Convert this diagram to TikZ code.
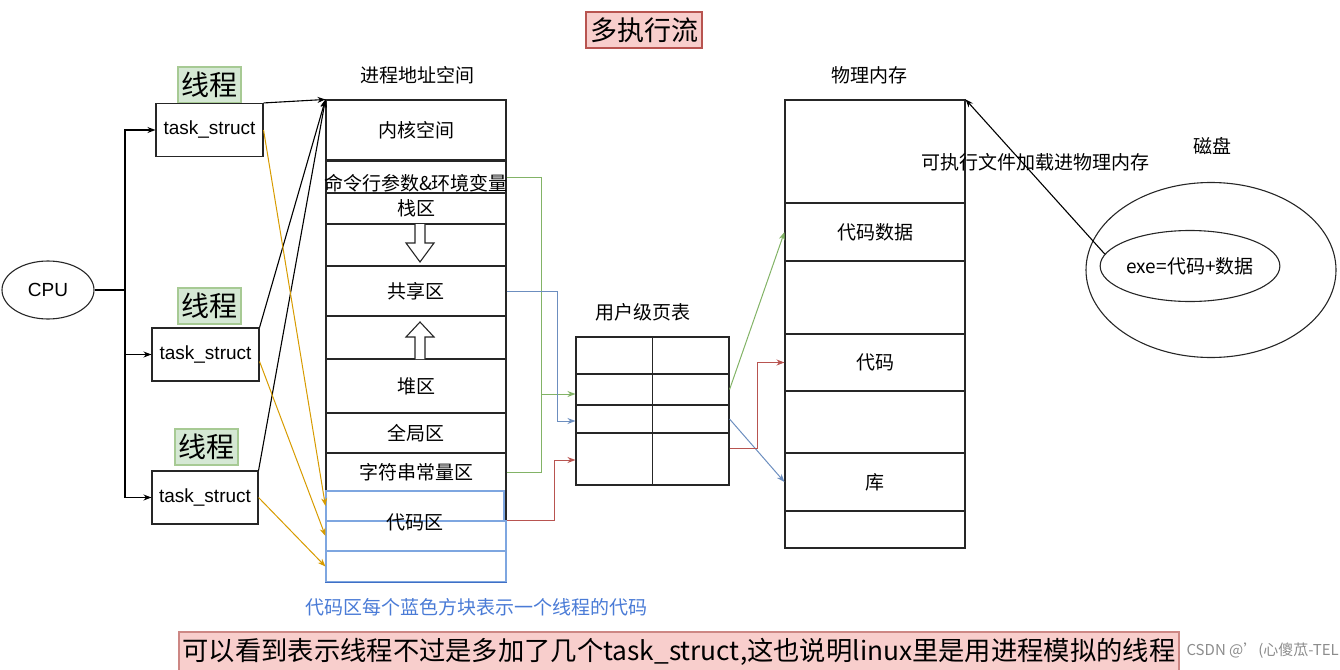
\documentclass[tikz,border=0pt]{standalone}
\usepackage{fontspec}
\setmainfont{Noto Sans CJK SC}
\newfontfamily\lat{Liberation Sans}
\usetikzlibrary{arrows.meta,shapes.geometric}
\definecolor{pinkf}{HTML}{F8CECC}
\definecolor{pinkd}{HTML}{B85450}
\definecolor{greenf}{HTML}{D5E8D4}
\definecolor{greend}{HTML}{82B366}
\definecolor{bluel}{HTML}{6C8EBF}
\definecolor{blueb}{HTML}{7EA6E0}
\definecolor{bluedk}{HTML}{3F6FC6}
\definecolor{oran}{HTML}{D79B00}
\definecolor{redl}{HTML}{B85450}
\definecolor{capblue}{HTML}{4A7BD6}
\begin{document}
\begin{tikzpicture}[x=1pt,y=-1pt,line width=1.1pt,
  >={Stealth[length=8pt,width=6pt]},
  txt/.style={inner sep=0pt,font=\fontsize{19}{22}\selectfont},
  box/.style={draw=black!85,rectangle,inner sep=0pt,minimum width=180pt,font=\fontsize{19}{22}\selectfont},
  cell/.style={draw=black!85,rectangle,inner sep=0pt,minimum width=153pt},
  tsbox/.style={draw=black!85,rectangle,inner sep=0pt,minimum width=107pt,minimum height=53pt,font=\lat\fontsize{19}{22}\selectfont},
  thr/.style={draw=greend!70,fill=greenf,rectangle,inner sep=0pt,minimum width=63pt,minimum height=36pt,font=\fontsize{28}{30}\selectfont},
  bluebox/.style={draw=blueb,rectangle,inner sep=0pt,minimum width=180pt},
  gr/.style={draw=greend,line width=1pt},
  bl/.style={draw=bluel,line width=1pt},
  rd/.style={draw=redl,line width=1pt},
  orl/.style={draw=oran,line width=1pt},
  hollow/.style={draw=black!85,fill=white,line width=1.1pt,line join=miter}]
\useasboundingbox (0,0) rectangle (1340,669);

% title
\node[draw=pinkd,fill=pinkf,rectangle,inner sep=0pt,minimum width=116pt,minimum height=36pt,font=\fontsize{27}{30}\selectfont] (title) at (644,30) {多执行流};

% CPU and threads
\node[draw=black!85,ellipse,inner sep=0pt,minimum width=92pt,minimum height=58pt,font=\lat\fontsize{19}{22}\selectfont] (cpu) at (48,290) {CPU};
\node[thr] (th1) at (209.5,85) {线程};
\node[thr] (th2) at (209.5,306) {线程};
\node[thr] (th3) at (206.5,447) {线程};
\node[tsbox] (ts1) at (209.5,130) {task\_struct};
\node[tsbox] (ts2) at (205.5,354.5) {task\_struct};
\node[tsbox,minimum width=106pt] (ts3) at (205,497.5) {task\_struct};

\coordinate (cj) at (125,290);
\draw (cpu.east) -- (cj);
\draw[->] (cj) |- (ts1.west);
\draw[->] (cj) |- (ts2.west);
\draw[->] (cj) |- (ts3.west);

% process address space
\node[txt] (aslbl) at (417,75) {进程地址空间};
\node[box,minimum height=60pt] (kern) at (416,130) {内核空间};
\node[box,minimum height=31.5pt] (cmd) at (416,177.25) {};
\node[txt] (cmdt) at (416,183) {命令行参数\&环境变量};
\node[box,minimum height=31pt] (stack) at (416,208.5) {栈区};
\node[box,minimum height=42pt] (arrd) at (416,245) {};
\node[box,minimum height=50pt] (share) at (416,291) {共享区};
\node[box,minimum height=43pt] (arru) at (416,337.5) {};
\node[box,minimum height=54pt] (heap) at (416,386) {堆区};
\node[box,minimum height=40pt] (glob) at (416,433) {全局区};
\node[box,minimum height=38pt] (str) at (416,472) {字符串常量区};
\node[box,minimum height=91pt] (codefr) at (416,536.5) {};
\node[bluebox,minimum width=178pt,minimum height=30pt] (blueA) at (415,506) {};
\node[bluebox,minimum height=30pt] (blueB) at (416,536) {};
\node[bluebox,minimum height=31pt] (blueC) at (416,566.5) {};
\draw[bluedk] (blueC.south west) -- (blueC.south east);
\node[txt] (codet) at (415,522) {代码区};
\node[txt,text=capblue] (cap) at (476,607) {代码区每个蓝色方块表示一个线程的代码};

% hollow arrows
\draw[hollow] (415,224) -- (415,243) -- (406,243) -- (420,262) -- (434,243) -- (425,243) -- (425,224);
\draw[hollow] (415,359) -- (415,337) -- (406,337) -- (420,322) -- (434,337) -- (425,337) -- (425,359);

% thread links
\draw[->] (ts1.north east) -- (kern.north west);
\draw[->] (ts2.north east) -- (kern.north west);
\draw[->] (ts3.north east) -- (kern.north west);
\draw[orl,->] (ts1.east) -- (blueA.west);
\draw[orl,->] ([yshift=-7pt]ts2.east) -- (blueB.west);
\draw[orl,->] (ts3.east) -- (blueC.west);

% page table
\node[txt] (ptlbl) at (643,312) {用户级页表};
\node[cell,minimum height=37pt] (ptr1) at (652.5,355.5) {};
\node[cell,minimum height=31pt] (ptr2) at (652.5,389.5) {};
\node[cell,minimum height=28pt] (ptr3) at (652.5,419) {};
\node[cell,minimum height=52pt] (ptr4) at (652.5,459) {};
\draw[black!85] (ptr1.north) -- (ptr4.south);

\coordinate (gj) at (541,394);
\coordinate (bj) at (557,421);
\coordinate (rj) at (554,460);
\draw[gr] (cmd.east) -| (gj);
\draw[gr] (str.east) -| (gj);
\draw[gr,->] (gj) -- (gj -| ptr2.west);
\draw[bl,->] (share.east) -| (bj) -- (bj -| ptr3.west);
\draw[rd,->] (blueB.north east) -| (rj) -- (rj -| ptr4.west);

% physical memory
\node[txt] (pmlbl) at (869,75) {物理内存};
\node[box,minimum height=103pt] (pm1) at (875,151.5) {};
\node[box,minimum height=58pt] (pm2) at (875,232) {代码数据};
\node[box,minimum height=73pt] (pm3) at (875,297.5) {};
\node[box,minimum height=57pt] (pm4) at (875,362.5) {代码};
\node[box,minimum height=62pt] (pm5) at (875,422) {};
\node[box,minimum height=58pt] (pm6) at (875,482) {库};
\node[box,minimum height=37pt] (pm7) at (875,529.5) {};

\coordinate (rk) at (757,362.5);
\draw[gr,->] (ptr2.east) -- (pm2.west);
\draw[bl,->] (ptr3.east) -- (pm6.west);
\draw[rd,->] ([yshift=11pt]ptr4.east) -| (rk) -- (pm4.west);

% disk
\node[txt] (disklbl) at (1212,146) {磁盘};
\node[draw=black!85,ellipse,inner sep=0pt,minimum width=250pt,minimum height=175pt] (disk) at (1211,270) {};
\node[draw=black!85,ellipse,inner sep=0pt,minimum width=164pt,minimum height=71pt,font=\fontsize{19}{22}\selectfont] (exe) at (1190,266) {exe=代码+数据};
\node[txt] (loadlbl) at (1035,162) {可执行文件加载进物理内存};
\draw[->] (exe.172) -- (pm1.north east);

% bottom note
\node[txt,text=black!45,font=\fontsize{15}{17}\selectfont,anchor=west] (wm) at (1186,651) {CSDN @'(心傻苽-TEL};
\node[draw=pinkd!70,fill=pinkf,rectangle,inner sep=0pt,minimum width=1000pt,minimum height=40pt,font=\fontsize{26.3}{29}\selectfont] (note) at (679,652) {可以看到表示线程不过是多加了几个task\_struct,这也说明linux里是用进程模拟的线程};
\end{tikzpicture}
\end{document}
